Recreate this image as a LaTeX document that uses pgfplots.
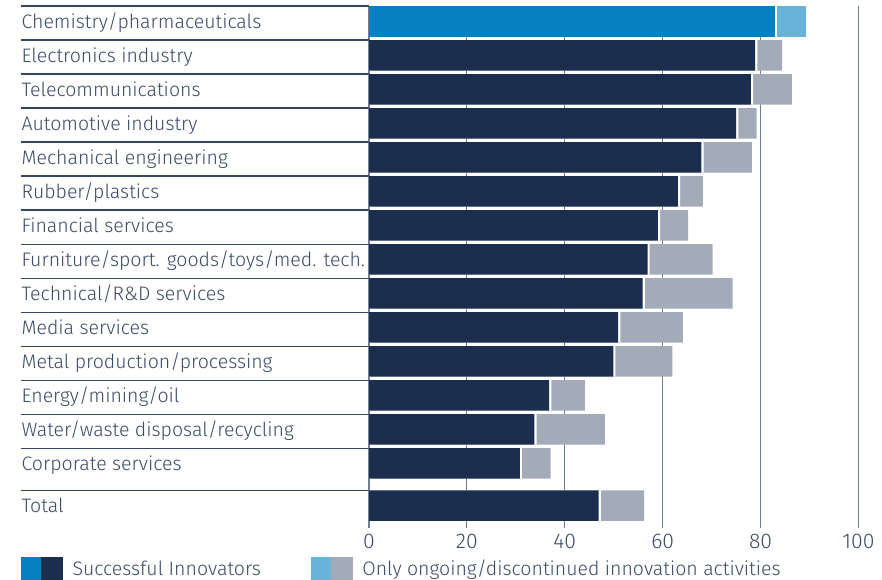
\documentclass[border=0pt]{standalone}
\usepackage{fontspec}
\IfFontExistsTF{Fira Sans Light}{\setmainfont{Fira Sans Light}}{\setmainfont{Fira Sans}}
\usepackage{pgfplots}
\usepackage{pgfplotstable}
\pgfplotsset{compat=1.18}
\definecolor{cBlue}{RGB}{7,128,194}
\definecolor{cLBlue}{RGB}{105,179,219}
\definecolor{cNavy}{RGB}{27,46,77}
\definecolor{cGray}{RGB}{164,171,184}
\definecolor{cText}{RGB}{59,74,102}
\definecolor{cGrid}{RGB}{112,125,147}
\definecolor{cSep}{RGB}{52,70,100}
\newcommand{\fs}{\fontsize{9.75pt}{11.5pt}\selectfont}
\newcommand{\fst}{\fontsize{10.6pt}{12pt}\selectfont}

\pgfplotstableread{
y dark total
0 83.0 89.3
}\chem
\pgfplotstableread{
y dark total
1 78.9 84.4
2 78.0 86.4
3 75.0 79.2
4 67.9 78.2
5 63.1 68.2
6 59.0 65.2
7 56.9 70.2
8 55.9 74.3
9 50.9 64.1
10 49.9 62.0
11 36.8 44.1
12 33.8 48.2
13 30.8 37.1
14.24 46.9 56.2
}\rest

\begin{document}
\begin{tikzpicture}
\begin{axis}[
  name=ax,
  scale only axis,
  width=244.75pt, height=261pt,
  xmin=0, xmax=100,
  ymin=-0.45, ymax=14.9,
  y dir=reverse,
  clip=false,
  axis line style={draw=none},
  major tick length=0pt,
  xtick={0,20,40,60,80,100},
  xticklabels={0,20,40,60,80,100},
  xmajorgrids,
  grid style={draw=cGrid, line width=0.55pt},
  xticklabel style={font=\fst, text=cText, inner sep=0pt, yshift=-3pt},
  ytick={0,1,2,3,4,5,6,7,8,9,10,11,12,13,14.24},
  yticklabels={Chemistry/pharmaceuticals, Electronics industry, Telecommunications, Automotive industry, Mechanical engineering, Rubber/plastics, Financial services, Furniture/sport. goods/toys/med. tech., Technical/R\&D services, Media services, Metal production/processing, Energy/mining/oil, Water/waste disposal/recycling, Corporate services, Total},
  yticklabel style={font=\fs, text=cText, anchor=west, inner sep=0pt, text height=0.69em, text depth=0pt, xshift=-173.9pt},
  legend columns=2,
  legend cell align=left,
  legend style={at={(axis description cs:-0.7115,-0.0550)}, anchor=north west, draw=none, fill=none, inner sep=0pt, outer sep=0pt, font=\fs, text=cText,
    nodes={inner sep=0pt, text height=0.69em, text depth=0pt},
    /tikz/every odd column/.append style={column sep=5pt},
    /tikz/every even column/.append style={column sep=0pt}},
]
% separator lines
\pgfplotsinvokeforeach{0,...,13}{
  \draw[cSep, line width=0.55pt] (axis cs:-71.15,#1-0.45) -- (axis cs:0,#1-0.45);
}
\draw[cSep, line width=0.55pt] (axis cs:-71.15,13.79) -- (axis cs:0,13.79);

% Chemistry row
\addplot[forget plot, xbar, bar width=0.9, bar shift=0pt, fill=cLBlue, draw=none] table[x=total, y=y] {\chem};
\addplot[forget plot, xbar, bar width=0.9, bar shift=0pt, fill=white, draw=none] table[x expr=\thisrow{dark}+0.45, y=y] {\chem};
\addplot[forget plot, xbar, bar width=0.9, bar shift=0pt, fill=cBlue, draw=none] table[x=dark, y=y] {\chem};
% other rows
\addplot[forget plot, xbar, bar width=0.9, bar shift=0pt, fill=cGray, draw=none] table[x=total, y=y] {\rest};
\addplot[forget plot, xbar, bar width=0.9, bar shift=0pt, fill=white, draw=none] table[x expr=\thisrow{dark}+0.45, y=y] {\rest};
\addplot[forget plot, xbar, bar width=0.9, bar shift=0pt, fill=cNavy, draw=none] table[x=dark, y=y] {\rest};

\addlegendimage{legend image code/.code={
  \fill[cBlue] (0pt,-5.5pt) rectangle (10.25pt,5.5pt);
  \fill[cNavy] (10.25pt,-5.5pt) rectangle (20.5pt,5.5pt);}}
\addlegendimage{legend image code/.code={
  \fill[cLBlue] (0pt,-5.5pt) rectangle (10.25pt,5.5pt);
  \fill[cGray] (10.25pt,-5.5pt) rectangle (20.5pt,5.5pt);}}
\legend{\makebox[119pt][l]{Successful Innovators}, Only ongoing/discontinued innovation activities}
\end{axis}
\pgfresetboundingbox
\path (ax.south west) ++(-184.5pt,-25.5pt) rectangle ++(441pt,289.5pt);
\end{tikzpicture}
\end{document}
